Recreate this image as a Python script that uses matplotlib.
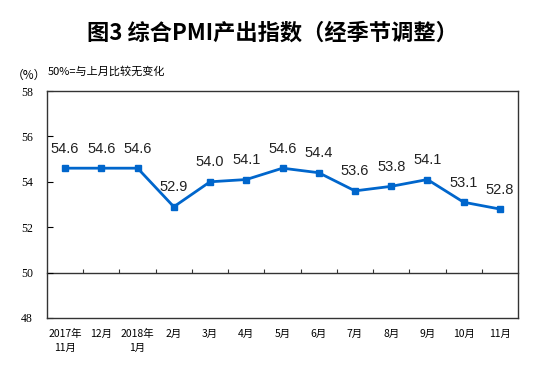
import matplotlib.pyplot as plt
import numpy as np

plt.rcParams['font.family'] = ['Noto Sans CJK SC', 'DejaVu Sans']

months = ['2017年\n11月', '12月', '2018年\n1月', '2月', '3月', '4月', '5月',
          '6月', '7月', '8月', '9月', '10月', '11月']
pmi_output = [54.6, 54.6, 54.6, 52.9, 54.0, 54.1, 54.6, 54.4, 53.6, 53.8, 54.1, 53.1, 52.8]
y_ticks = [48, 50, 52, 54, 56, 58]

fig = plt.figure(figsize=(5.53, 3.89), dpi=100)
ax = fig.add_axes([47 / 553, 1 - 318 / 389, 471 / 553, 227 / 389])

x = np.arange(len(months))
ax.plot(x, pmi_output, color='#0066CC', lw=2, marker='s', ms=4)
for xi, v in zip(x, pmi_output):
    ax.annotate(f'{v:.1f}', (xi, v), xytext=(0, 9), textcoords='offset points',
                ha='center', va='bottom', fontsize=10.5, family='Liberation Sans',
                color='#222222')

ax.set_xlim(-0.5, len(months) - 0.5)
ax.set_ylim(48, 58)
ax.set_yticks(y_ticks)
ax.set_yticklabels([str(t) for t in y_ticks], family='Liberation Serif', fontsize=8.5)
ax.tick_params(axis='y', direction='in', length=4, width=0.8, pad=10)
ax.set_xticks(x)
ax.set_xticklabels(months, fontsize=7.5, linespacing=1.5)
ax.tick_params(axis='x', length=0, pad=8)
for s in ax.spines.values():
    s.set_linewidth(1)
    s.set_color('#333333')

# category axis crossing at 50
ax50 = ax.secondary_xaxis((50 - 48) / (58 - 48))
ax50.set_xticks(np.arange(len(months) - 1) + 0.5)
ax50.set_xticklabels([])
ax50.tick_params(direction='in', length=3, width=0.8, colors='#333333')
ax50.spines['bottom'].set_color('#333333')
ax50.spines['bottom'].set_linewidth(1)

fig.text(272 / 553, 1 - 33 / 389, '图3 综合PMI产出指数（经季节调整）', ha='center',
         va='center', fontsize=16, fontweight='bold')
fig.text(29 / 553, 1 - 75 / 389, '（%）', ha='center', va='center', fontsize=8.5)
fig.text(48 / 553, 1 - 71 / 389, '50%=与上月比较无变化', ha='left', va='center', fontsize=8)

fig.savefig('out.png', dpi=100)
